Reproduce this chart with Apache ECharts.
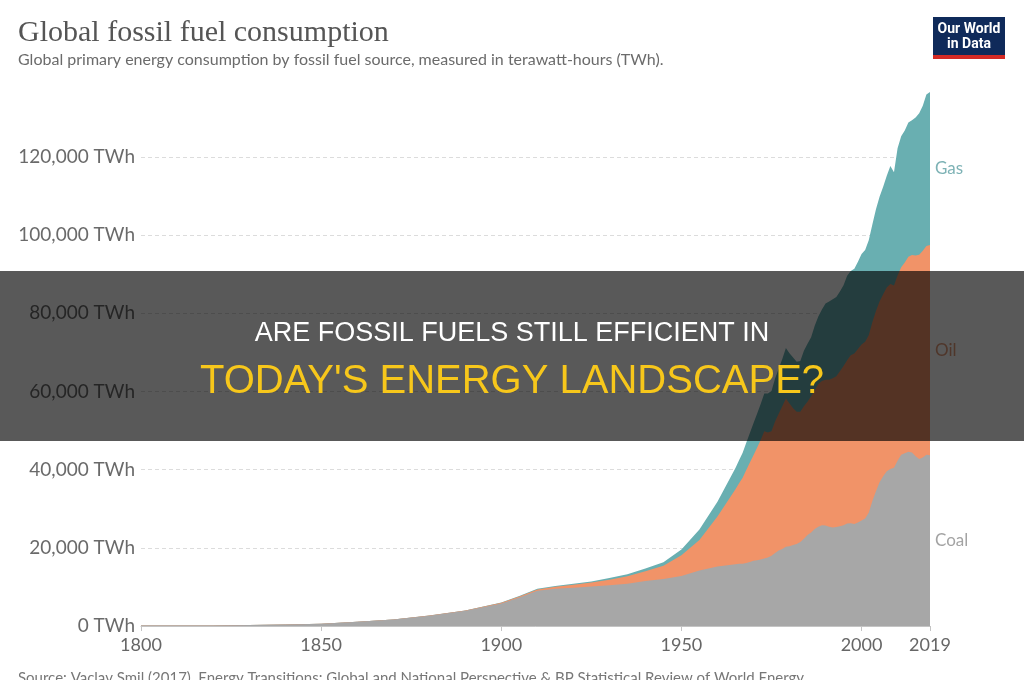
<!DOCTYPE html>
<html><head><meta charset="utf-8">
<script src="https://cdn.jsdelivr.net/npm/echarts@6/dist/echarts.min.js"></script>
<style>html,body{margin:0;padding:0;background:#fff}#c{width:1024px;height:680px}</style>
</head><body><div id="c"></div>
<script>
// ---- data (TWh) ----
const years = [1800,1810,1820,1830,1840,1850,1860,1870,1880,1890,1900,
  1905,1910,1915,1920,1925,1930,1935,1940,1945,1950,1955,1960,
  1965,1966,1967,1968,1969,1970,1971,1972,1973,1974,1975,1976,1977,1978,1979,1980,1981,1982,1983,1984,
  1985,1986,1987,1988,1989,1990,1991,1992,1993,1994,1995,1996,1997,1998,1999,2000,2001,2002,2003,2004,
  2005,2006,2007,2008,2009,2010,2011,2012,2013,2014,2015,2016,2017,2018,2019];
const coal = [97,128,153,264,356,569,1060,1640,2650,3900,5750,
  7300,9000,9500,9800,10100,10400,10800,11500,12000,12800,14200,15200,
  15800,15900,15950,16100,16400,16700,16800,17000,17300,17500,
  18000,18700,19300,19700,20300,20400,20700,21000,21500,22300,
  23300,23900,24800,25400,25800,25700,25400,25200,25300,25500,
  25800,26200,26300,26100,26500,27000,27500,29000,32000,34500,
  36800,38300,39600,40200,40500,42300,43800,44200,44600,44400,
  43400,42700,43100,43800,43700];
const oil = [0,0,0,0,0,0,0,6,33,90,181,
  260,350,550,750,1000,1450,1950,2500,3400,5300,7800,12800,
  19200,20600,22000,23800,25400,27000,28800,30600,32500,32000,
  31800,33600,35000,36500,37900,36500,35000,33800,33300,33900,
  34100,34900,35500,36500,36900,37300,37600,38200,38600,39700,
  40700,41800,43000,43600,44400,45000,45200,45400,45700,46100,
  46200,46600,47000,47300,46600,47400,48000,48800,49900,50500,
  51400,52300,52900,53400,53800];
const gas = [0,0,0,0,0,0,0,0,0,0,64,
  100,150,200,250,300,400,500,700,900,1500,2700,3800,
  5400,5900,6400,7000,7600,8200,8700,9200,9700,10000,
  10300,11000,11500,12100,12900,12900,13000,12800,13000,14200,
  14800,15100,16500,17300,18300,19500,20000,20200,20300,20400,
  20700,21600,21500,21700,22300,23200,23500,24300,25000,26000,
  26800,27500,28600,30200,29000,32500,33500,33800,34300,34500,
  35300,36200,37100,38800,39100];
const seriesNames = ['Coal','Oil','Gas'];
const xTickYears = [1800,1850,1900,1950,2000,2019];
const yTickStep = 20000;

const COL = {Coal:'#a7a7a7', Oil:'#f19368', Gas:'#69afb1'};
const LABCOL = {Coal:'#8c8c8c', Oil:'#d98158', Gas:'#5c9fa2'};
const values = {Coal:coal, Oil:oil, Gas:gas};

// cumulative (stacked) tops, bottom-up: Coal, Coal+Oil, Coal+Oil+Gas
const cum = {};
let run = years.map(()=>0);
seriesNames.forEach(n=>{ run = run.map((s,i)=>s+values[n][i]); cum[n] = run.slice(); });

const last = years.length-1;
const lastYear = years[last];
let base = 0;
const labelPts = seriesNames.map(n=>{
  const v = values[n][last];
  const mid = base + v/2; base += v;
  return {name:n, value:[lastYear, mid], label:{color:LABCOL[n]}};
});

const chart = echarts.init(document.getElementById('c'), null, {renderer:'canvas'});
const fmtNum = v => String(v).replace(/\B(?=(\d{3})+(?!\d))/g, ',');

// draw the top band first; each lower band covers the area beneath it
const series = seriesNames.slice().reverse().map((n,k)=>({
  name:n, type:'line', data:years.map((y,i)=>[y, cum[n][i]]),
  showSymbol:false, symbol:'none', lineStyle:{width:0},
  areaStyle:{color:COL[n], opacity:1, origin:'start'}, itemStyle:{color:COL[n]},
  emphasis:{disabled:true}, silent:true, z:2+k
}));
series.push({
  type:'scatter', data:labelPts, symbolSize:0, itemStyle:{color:'rgba(0,0,0,0)'}, clip:false, silent:true, z:6,
  label:{show:true, position:'right', distance:5, formatter:p=>p.name, fontFamily:'Lato', fontSize:17}
});

chart.setOption({
  animation:false,
  backgroundColor:'#ffffff',
  grid:{left:141, right:94, top:78.8, bottom:54, containLabel:false},
  xAxis:{type:'value', min:xTickYears[0], max:xTickYears[xTickYears.length-1], interval:50,
    axisLine:{show:true, lineStyle:{color:'#c4c4c4', width:1}},
    axisTick:{show:true, length:5, lineStyle:{color:'#c4c4c4'}},
    splitLine:{show:false},
    axisLabel:{formatter:v=>String(v), fontFamily:'Lato', fontSize:18, color:'#666', margin:10,
      showMinLabel:true, showMaxLabel:true}
  },
  yAxis:{type:'value', min:0, max:140000, interval:yTickStep,
    axisLine:{show:false}, axisTick:{show:false},
    splitLine:{show:true, showMaxLine:false, lineStyle:{color:'#dcdcdc', type:[4,3], width:1}},
    axisLabel:{formatter:v=>fmtNum(v)+' TWh', fontFamily:'Lato', fontSize:19, color:'#6a6a6a', margin:6,
      showMaxLabel:false}
  },
  series:series,
  graphic:[
    {type:'text', x:18, y:33, z:50, style:{text:'Global fossil fuel consumption', font:'normal 30px "Liberation Serif", serif', fill:'#555', verticalAlign:'middle'}},
    {type:'text', x:18, y:60, z:50, style:{text:'Global primary energy consumption by fossil fuel source, measured in terawatt-hours (TWh).', font:'16px Lato, sans-serif', fill:'#6b6b6b', verticalAlign:'middle'}},
    {type:'rect', x:933, y:17, z:50, shape:{width:72, height:42}, style:{fill:'#0f2a5a'}},
    {type:'rect', x:933, y:55, z:51, shape:{width:72, height:4}, style:{fill:'#d42a25'}},
    {type:'text', x:969, y:29, z:52, style:{text:'Our World', font:'bold 14px Roboto, sans-serif', fill:'#fff', align:'center', verticalAlign:'middle'}},
    {type:'text', x:969, y:44, z:52, style:{text:'in Data', font:'bold 14px Roboto, sans-serif', fill:'#fff', align:'center', verticalAlign:'middle'}},
    {type:'text', x:18, y:678, z:50, style:{text:'Source: Vaclav Smil (2017). Energy Transitions: Global and National Perspective & BP Statistical Review of World Energy', font:'15px Lato, sans-serif', fill:'#777', verticalAlign:'middle'}},
    {type:'rect', x:0, y:271, z:100, shape:{width:1024, height:170}, style:{fill:'rgba(0,0,0,0.65)'}},
    {type:'text', x:512, y:334, z:101, style:{text:'ARE FOSSIL FUELS STILL EFFICIENT IN', font:'27px "Liberation Sans", Arial, sans-serif', fill:'#ffffff', align:'center', verticalAlign:'middle'}},
    {type:'text', x:512, y:382, z:101, style:{text:"TODAY'S ENERGY LANDSCAPE?", font:'40px "Liberation Sans", Arial, sans-serif', fill:'#f7c71b', align:'center', verticalAlign:'middle'}}
  ]
});
</script></body></html>
